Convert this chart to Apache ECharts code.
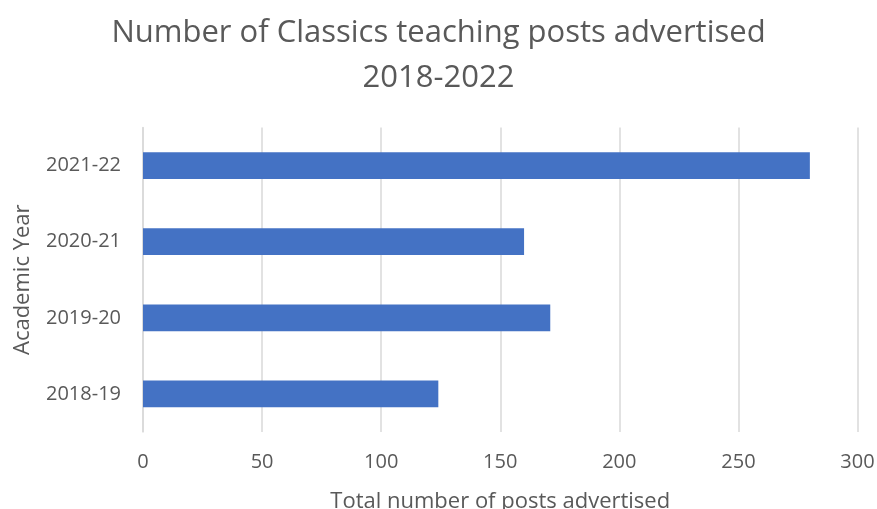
<!DOCTYPE html>
<html><head><meta charset="utf-8">
<script src="https://cdn.jsdelivr.net/npm/echarts@6/dist/echarts.min.js"></script>
<style>html,body{margin:0;padding:0;background:#fff}#c{width:877px;height:509px}</style>
</head><body><div id="c"></div>
<script>
const categories = ['2018-19', '2019-20', '2020-21', '2021-22'];
const posts = [124, 171, 160, 280];
const xTicks = [0, 50, 100, 150, 200, 250, 300];

const chart = echarts.init(document.getElementById('c'));
const font = 'Open Sans';
chart.setOption({
  animation: false,
  title: {
    text: 'Number of Classics teaching posts advertised\n2018-2022',
    left: 'center', top: 6,
    textStyle: { fontFamily: font, fontSize: 31, fontWeight: 'normal', color: '#595959', lineHeight: 45 }
  },
  grid: { left: 143, right: 19.5, top: 127.5, bottom: 77, containLabel: false, outerBoundsMode: 'none' },
  xAxis: {
    type: 'value', min: xTicks[0], max: xTicks[xTicks.length - 1], interval: 50,
    name: 'Total number of posts advertised', nameLocation: 'middle', nameGap: 59,
    nameTextStyle: { fontFamily: font, fontSize: 22, color: '#595959' },
    axisLine: { show: false }, axisTick: { show: false },
    axisLabel: { fontFamily: font, fontSize: 20, color: '#595959', margin: 20 },
    splitLine: { lineStyle: { color: '#d9d9d9', width: 1.5 } }
  },
  yAxis: {
    type: 'category', data: categories,
    name: 'Academic Year', nameLocation: 'middle', nameGap: 109, nameRotate: 90,
    nameTextStyle: { fontFamily: font, fontSize: 22, color: '#595959' },
    axisLine: { show: true, lineStyle: { color: '#d9d9d9', width: 1.5 } },
    axisTick: { show: false },
    axisLabel: { fontFamily: font, fontSize: 20, color: '#595959', margin: 22 }
  },
  series: [{
    type: 'bar', data: posts, barWidth: '35%',
    itemStyle: { color: '#4472c4' }
  }]
});
</script></body></html>
